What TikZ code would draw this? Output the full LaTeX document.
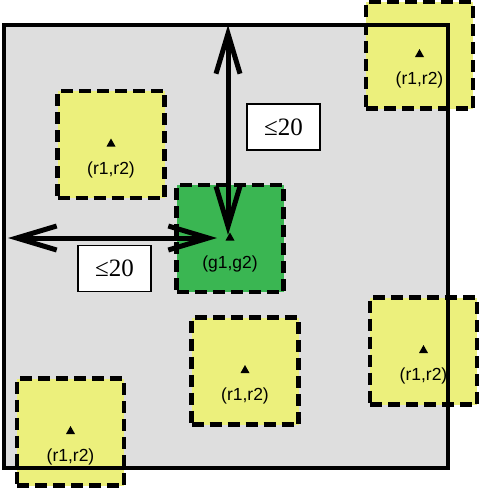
\documentclass[tikz,border=0pt]{standalone}
\usepackage{fontspec}
\setmainfont{Liberation Serif}
\setsansfont{Liberation Sans}
\usetikzlibrary{arrows.meta}
\definecolor{areagray}{RGB}{222,222,222}
\definecolor{candyellow}{RGB}{236,240,124}
\definecolor{goodgreen}{RGB}{58,182,82}
\tikzset{
  cell/.style={draw=black, line width=4.5pt, dash pattern=on 12pt off 6pt,
    minimum width=107pt, minimum height=107pt, inner sep=0pt, outer sep=0pt},
  ycell/.style={cell, fill=candyellow},
  gcell/.style={cell, fill=goodgreen},
  lbl/.style={font=\sffamily\fontsize{17.5pt}{17.5pt}\selectfont, inner sep=0pt},
  limit/.style={draw=black, line width=1.5pt, fill=white, minimum width=73pt,
    minimum height=46pt, inner sep=0pt, font=\fontsize{25pt}{25pt}\selectfont},
  dist/.style={line width=5pt, {Straight Barb[length=40pt,width=24pt]}-{Straight Barb[length=40pt,width=24pt]}}
}
\begin{document}
\begin{tikzpicture}[x=1pt,y=-1pt]
\useasboundingbox (0,0) rectangle (482,488);
% area
\fill[areagray] (4,25) rectangle (448,468);
% cells
\node[ycell] (a) at (111,144.5) {};
\node[ycell] (tr) at (419.5,55) {};
\node[gcell] (g) at (230,238.5) {};
\node[ycell] (bl) at (70.5,432) {};
\node[ycell] (bm) at (245,371) {};
\node[ycell] (r) at (423.5,351) {};
% markers and labels
\foreach \n/\t in {a/{(r1,r2)}, tr/{(r1,r2)}, g/{(g1,g2)}, bl/{(r1,r2)}, bm/{(r1,r2)}, r/{(r1,r2)}}{
  \fill ([yshift=1.5pt]\n.center) ++(0,-4.5) -- ++(4.5,8) -- ++(-9,0) -- cycle;
  \node[lbl] (\n-t) at ([yshift=-25pt]\n.center) {\t};
}
% boundary
\draw[line width=4.5pt] (4,25) rectangle (448,468);
% distances
\coordinate (vtop) at (228,25);
\coordinate (vbot) at (228,235);
\coordinate (hl) at (8,238);
\coordinate (hr) at (217,238);
\draw[dist] (vtop) -- (vbot);
\draw[dist] (hl) -- (hr);
\node[limit] (l1) at (283.5,127) {≤20};
\node[limit] (l2) at (114.5,268.5) {≤20};
\end{tikzpicture}
\end{document}
